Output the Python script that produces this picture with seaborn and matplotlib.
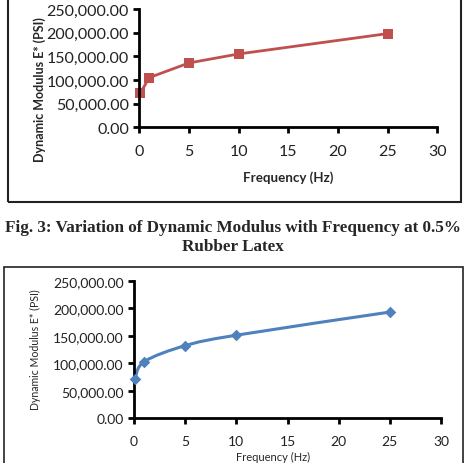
import matplotlib
matplotlib.use("Agg")
import matplotlib.pyplot as plt
from matplotlib.patches import Rectangle, PathPatch
from matplotlib.path import Path
from matplotlib.ticker import FuncFormatter, MultipleLocator
import seaborn as sns
import pandas as pd

# Data
frequency = [0.1, 1, 5, 10, 25]
modulus_top = [72000, 105000, 136000, 155000, 198000]      # Fig. 3, 0.5% rubber latex
modulus_bottom = [72000, 103000, 132000, 151000, 193000]   # next figure (cut off)

caption = ["Fig. 3: Variation of Dynamic Modulus with Frequency at 0.5%", "Rubber Latex"]

sns.set_style("white")
plt.rcParams["font.family"] = ["Lato", "DejaVu Sans"]

W, H = 472, 464
fig = plt.figure(figsize=(W / 100, H / 100), dpi=100)


def px_axes(left, top, right, bottom):
    return fig.add_axes([left / W, 1 - bottom / H, (right - left) / W, (bottom - top) / H])


def style_axes(ax, tick_size, label_size, xlabel_size, weight):
    ax.set_xlim(0, 30)
    ax.set_ylim(0, 250000)
    ax.xaxis.set_major_locator(MultipleLocator(5))
    ax.yaxis.set_major_locator(MultipleLocator(50000))
    ax.yaxis.set_major_formatter(FuncFormatter(lambda v, p: f"{v:,.2f}"))
    for s in ["top", "right"]:
        ax.spines[s].set_visible(False)
    for s in ["left", "bottom"]:
        ax.spines[s].set_linewidth(2)
        ax.spines[s].set_color("black")
    ax.tick_params(axis="both", direction="out", length=4, width=2, color="black",
                   labelsize=tick_size, labelcolor="#222222", left=True, bottom=True)
    ax.tick_params(axis="x", pad=8)
    ax.set_xlabel("Frequency (Hz)", fontsize=xlabel_size, fontweight=weight)
    ax.set_ylabel("Dynamic Modulus E* (PSI)", fontsize=label_size, fontweight=weight)
    ax.set_facecolor("none")


# Top chart (red squares, straight segments)
df_top = pd.DataFrame({"f": frequency, "E": modulus_top})
ax1 = px_axes(139.3, 10, 437.3, 128.3)
sns.lineplot(data=df_top, x="f", y="E", ax=ax1, color="#C0504D", linewidth=2,
             marker="s", markersize=7.5, markeredgewidth=0, clip_on=False)
style_axes(ax1, 11.5, 9, 9.6, "bold")
ax1.yaxis.set_label_coords((46 - 139.3) / 298, (128.3 - 90) / 118.3)
ax1.xaxis.set_label_coords(0.5, (128.3 - 171) / 118.3)

# Bottom chart (blue diamonds, smoothed line)
df_bot = pd.DataFrame({"f": frequency, "E": modulus_bottom})
ax2 = px_axes(134, 281.7, 441, 419.3)
pts = list(zip(frequency, modulus_bottom))
verts = [pts[0]]
codes = [Path.MOVETO]
for i in range(len(pts) - 1):
    p0 = pts[i - 1] if i > 0 else pts[i]
    p1, p2 = pts[i], pts[i + 1]
    p3 = pts[i + 2] if i + 2 < len(pts) else pts[i + 1]
    c1 = (p1[0] + (p2[0] - p0[0]) / 6, p1[1] + (p2[1] - p0[1]) / 6)
    c2 = (p2[0] - (p3[0] - p1[0]) / 6, p2[1] - (p3[1] - p1[1]) / 6)
    verts += [c1, c2, p2]
    codes += [Path.CURVE4] * 3
ax2.add_patch(PathPatch(Path(verts, codes), facecolor="none", edgecolor="#4F81BD", lw=2.2))
sns.scatterplot(data=df_bot, x="f", y="E", ax=ax2, color="#4F81BD", marker="D", s=35,
                linewidth=0, clip_on=False, zorder=3)
style_axes(ax2, 10, 7.6, 8, "normal")
ax2.yaxis.set_label_coords((41 - 134) / 307, (419.3 - 350) / 137.6)
ax2.xaxis.set_label_coords((273 - 134) / 307, (419.3 - 452) / 137.6)

# Caption between the charts
fig.text(233 / W, 1 - 228 / H, caption[0], ha="center", va="center",
         family="Liberation Serif", fontweight="bold", fontsize=12.3)
fig.text(233 / W, 1 - 247 / H, caption[1], ha="center", va="center",
         family="Liberation Serif", fontweight="bold", fontsize=12.3)

# Chart borders
fig.patches.append(Rectangle((8 / W, 1 - 203 / H), (461 - 8) / W, 210 / H, transform=fig.transFigure,
                             fill=False, edgecolor="#222222", lw=1.5, figure=fig))
fig.patches.append(Rectangle((4 / W, -0.05), (463 - 4) / W, (1 - 268 / H) + 0.05, transform=fig.transFigure,
                             fill=False, edgecolor="#222222", lw=1.2, figure=fig))

fig.savefig("out.png", dpi=100)
